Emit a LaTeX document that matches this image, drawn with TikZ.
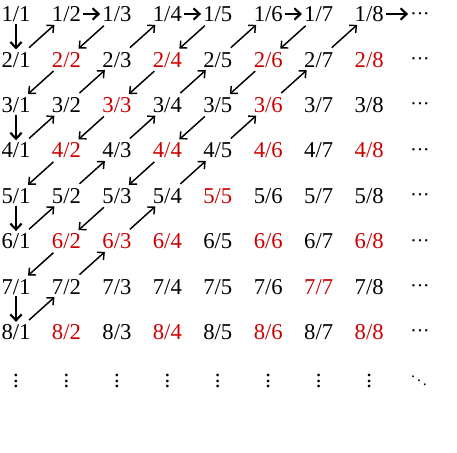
\documentclass[tikz,border=0pt]{standalone}
\usepackage{fontspec}
\setmainfont{Liberation Serif}
\usetikzlibrary{arrows.meta}
\begin{document}
\begin{tikzpicture}[
    x=0.75pt, y=-0.75pt,
    frac/.style={font=\fontsize{17}{19}\selectfont, inner sep=1.5pt, text height=11.5pt, text depth=0pt},
    dots/.style={font=\fontsize{17}{19}\selectfont, inner sep=1.5pt},
    diagarrow/.style={-{Straight Barb[length=4pt,width=7.5pt]}, line width=1.1pt, shorten <=2pt, shorten >=1pt},
    steparrow/.style={-{Straight Barb[length=4.5pt,width=8.5pt]}, line width=1.6pt},
]
\useasboundingbox (0,0) rectangle (457,453);

% fractions n/m, red where gcd(n,m) > 1
\foreach \n in {1,...,8}{
  \foreach \m in {1,...,8}{
    \pgfmathtruncatemacro{\g}{gcd(\n,\m)}
    \ifnum\g>1 \def\fcol{red!80!black}\else\def\fcol{black}\fi
    \node[frac, text=\fcol] (f-\n-\m) at ({16+50.45*(\m-1)}, {14+45.4*(\n-1)}) {\n/\m};
  }
}

% continuation dots
\foreach \n in {1,...,8}
  \node[dots] (c-\n) at (420, {14+45.4*(\n-1)}) {${\cdot}{\cdot}{\cdot}$};
\foreach \m in {1,...,8}
  \node[dots] (v-\m) at ({16+50.45*(\m-1)}, 377) {$\vdots$};
\node[dots, font=\fontsize{12}{14}\selectfont] (dd) at (419, 377) {$\ddots$};

% steps along the edges
\draw[steparrow] (f-1-2) -- (f-1-3);
\draw[steparrow] (f-1-4) -- (f-1-5);
\draw[steparrow] (f-1-6) -- (f-1-7);
\draw[steparrow] (f-1-8) -- (c-1);
\draw[steparrow] (f-1-1) -- (f-2-1);
\draw[steparrow] (f-3-1) -- (f-4-1);
\draw[steparrow] (f-5-1) -- (f-6-1);
\draw[steparrow] (f-7-1) -- (f-8-1);

% diagonals n+m = s, up for odd s, down for even s
\foreach \s in {3,...,9}{
  \pgfmathtruncatemacro{\last}{\s-2}
  \foreach \n in {1,...,\last}{
    \pgfmathtruncatemacro{\m}{\s-\n}
    \pgfmathtruncatemacro{\nn}{\n+1}
    \pgfmathtruncatemacro{\mm}{\m-1}
    \ifodd\s
      \draw[diagarrow] (f-\nn-\mm) -- (f-\n-\m);
    \else
      \draw[diagarrow] (f-\n-\m) -- (f-\nn-\mm);
    \fi
  }
}
\end{tikzpicture}
\end{document}
